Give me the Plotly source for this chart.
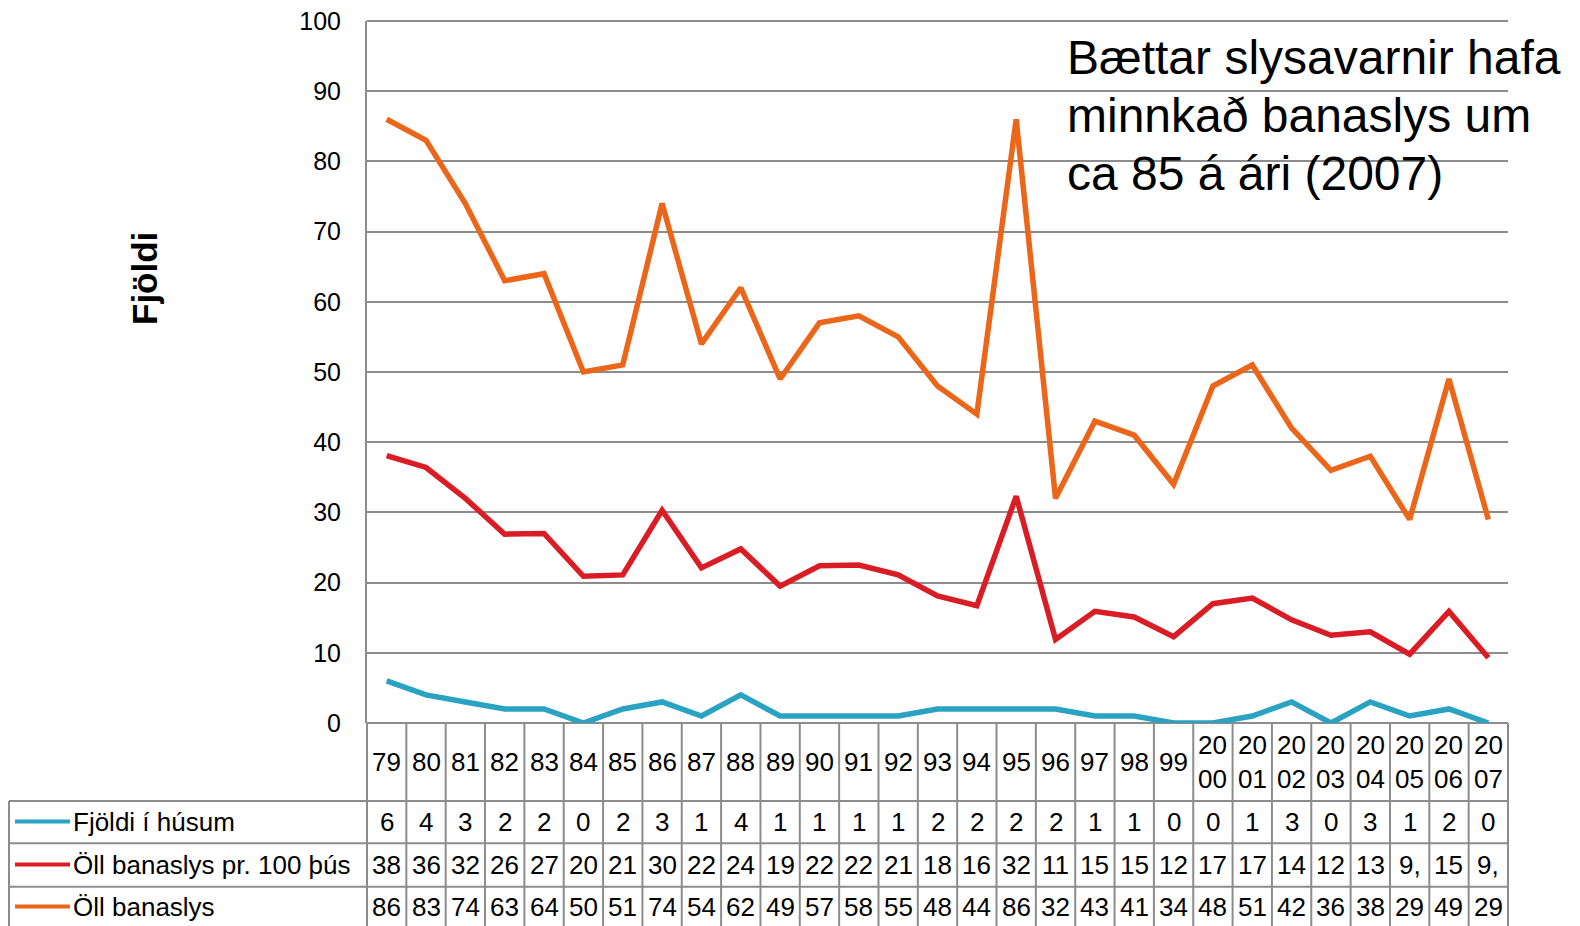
import plotly.graph_objects as go

# ---------------- data ----------------
year_labels = ["79", "80", "81", "82", "83", "84", "85", "86", "87", "88", "89",
               "90", "91", "92", "93", "94", "95", "96", "97", "98", "99",
               "20<br>00", "20<br>01", "20<br>02", "20<br>03", "20<br>04",
               "20<br>05", "20<br>06", "20<br>07"]
categories = [f"c{i}" for i in range(len(year_labels))]

fjoldi_husum = [6, 4, 3, 2, 2, 0, 2, 3, 1, 4, 1, 1, 1, 1, 2, 2, 2, 2, 1, 1, 0,
                0, 1, 3, 0, 3, 1, 2, 0]
banaslys_100 = [38.1, 36.4, 32.0, 26.9, 27.0, 20.9, 21.1, 30.3, 22.1, 24.8, 19.5,
                22.4, 22.5, 21.1, 18.1, 16.7, 32.3, 11.9, 15.9, 15.1, 12.3,
                17.0, 17.8, 14.7, 12.5, 13.0, 9.8, 15.9, 9.3]
banaslys_100_text = ["38", "36", "32", "26", "27", "20", "21", "30", "22", "24", "19",
                     "22", "22", "21", "18", "16", "32", "11", "15", "15", "12",
                     "17", "17", "14", "12", "13", "9,", "15", "9,"]
oll_banaslys = [86, 83, 74, 63, 64, 50, 51, 74, 54, 62, 49, 57, 58, 55, 48, 44,
                86, 32, 43, 41, 34, 48, 51, 42, 36, 38, 29, 49, 29]

series_names = ["Fjöldi í húsum", "Öll banaslys pr. 100 þús", "Öll banaslys"]
series_values = [fjoldi_husum, banaslys_100, oll_banaslys]
series_text = [[str(v) for v in fjoldi_husum], banaslys_100_text,
               [str(v) for v in oll_banaslys]]
series_colors = ["#2AA2C2", "#DA1C24", "#EC661A"]

y_ticks = [0, 10, 20, 30, 40, 50, 60, 70, 80, 90, 100]
note_lines = ["Bættar slysavarnir hafa", "minnkað banaslys um", "ca 85 á ári (2007)"]
y_title = "Fjöldi"

# ---------------- layout constants ----------------
W, H = 1580, 926
ML, MR, MT, MB = 367, 72, 21, 203
PW = W - ML - MR
PH = H - MT - MB
FONT = "Liberation Sans, Arial, sans-serif"
GRID = "#8C8C8C"


def px_x(px):
    return (px - ML) / PW


def px_y(py):
    return (H - MB - py) / PH


row_edges = [H - MB, 801, 843.3, 886.7, 930]
row_mids = [762, 821.5, 864.5, 906.5]

fig = go.Figure()
for name, vals, col in zip(series_names, series_values, series_colors):
    fig.add_trace(go.Scatter(x=categories, y=vals, mode="lines", name=name,
                             line=dict(color=col, width=5.5), showlegend=False))

shapes = []
annotations = []

# top gridline (at the edge of the plot area)
shapes.append(dict(type="line", xref="paper", yref="paper", x0=0, x1=1, y0=1, y1=1,
                   line=dict(color=GRID, width=2), layer="below"))

# vertical table lines (inner ones on category boundaries)
for i in range(1, len(categories)):
    shapes.append(dict(type="line", xref="x", yref="paper", x0=i - 0.5, x1=i - 0.5,
                       y0=px_y(row_edges[0]), y1=px_y(row_edges[-1]),
                       line=dict(color=GRID, width=2)))
for xp in (0, 1):
    shapes.append(dict(type="line", xref="paper", yref="paper", x0=xp, x1=xp,
                       y0=px_y(row_edges[0]), y1=px_y(row_edges[-1]),
                       line=dict(color=GRID, width=2)))
# left border of label column
shapes.append(dict(type="line", xref="paper", yref="paper", x0=px_x(9), x1=px_x(9),
                   y0=px_y(row_edges[1]), y1=px_y(row_edges[-1]),
                   line=dict(color=GRID, width=2)))
# horizontal table lines
shapes.append(dict(type="line", xref="paper", yref="paper", x0=0, x1=1,
                   y0=0, y1=0, line=dict(color=GRID, width=2), layer="below"))
for r in row_edges[1:]:
    shapes.append(dict(type="line", xref="paper", yref="paper", x0=px_x(9), x1=1,
                       y0=px_y(r), y1=px_y(r), line=dict(color=GRID, width=2)))

# category row labels
for c, lab in zip(categories, year_labels):
    annotations.append(dict(xref="x", yref="paper", x=c, y=px_y(row_mids[0]), text=lab,
                            showarrow=False, xanchor="center", yanchor="middle",
                            font=dict(family=FONT, size=26, color="black")))

# data rows + legend keys
for k, (name, texts, col) in enumerate(zip(series_names, series_text, series_colors)):
    mid = row_mids[k + 1]
    for c, t in zip(categories, texts):
        annotations.append(dict(xref="x", yref="paper", x=c, y=px_y(mid), text=t,
                                showarrow=False, xanchor="center", yanchor="middle",
                                font=dict(family=FONT, size=26, color="black")))
    shapes.append(dict(type="line", xref="paper", yref="paper", x0=px_x(15), x1=px_x(70),
                       y0=px_y(mid), y1=px_y(mid), line=dict(color=col, width=4)))
    annotations.append(dict(xref="paper", yref="paper", x=px_x(71), y=px_y(mid), text=name,
                            showarrow=False, xanchor="left", yanchor="middle",
                            font=dict(family=FONT, size=26, color="black")))

# note text (one annotation per line to match line spacing)
for j, line in enumerate(note_lines):
    annotations.append(dict(xref="paper", yref="paper", x=px_x(1065), y=px_y(57 + 58.3 * j),
                            text=line, showarrow=False, xanchor="left", yanchor="middle",
                            font=dict(family=FONT, size=48, color="black")))
# y-axis title
annotations.append(dict(xref="paper", yref="paper", x=px_x(144), y=px_y(279),
                        text="<b>" + y_title + "</b>", textangle=-90, showarrow=False,
                        xanchor="center", yanchor="middle",
                        font=dict(family=FONT, size=35, color="black")))

fig.update_layout(
    width=W, height=H,
    margin=dict(l=ML, r=MR, t=MT, b=MB, pad=0, autoexpand=False),
    paper_bgcolor="white", plot_bgcolor="white",
    showlegend=False,
    shapes=shapes, annotations=annotations,
    xaxis=dict(type="category", categoryorder="array", categoryarray=categories,
               range=[-0.5, len(categories) - 0.5], showticklabels=False,
               showgrid=False, zeroline=False, showline=False, ticks="",
               automargin=False),
    yaxis=dict(range=[0, 100], tickvals=y_ticks, ticktext=[str(v) for v in y_ticks],
               showgrid=True, gridcolor=GRID, gridwidth=2, zeroline=False,
               showline=True, linecolor=GRID, linewidth=2, ticks="",
               ticklabelstandoff=19, automargin=False,
               tickfont=dict(family=FONT, size=25, color="black")),
)

fig.write_html("out.html", config={"displayModeBar": False},
               post_script="document.body.style.margin='0';")
